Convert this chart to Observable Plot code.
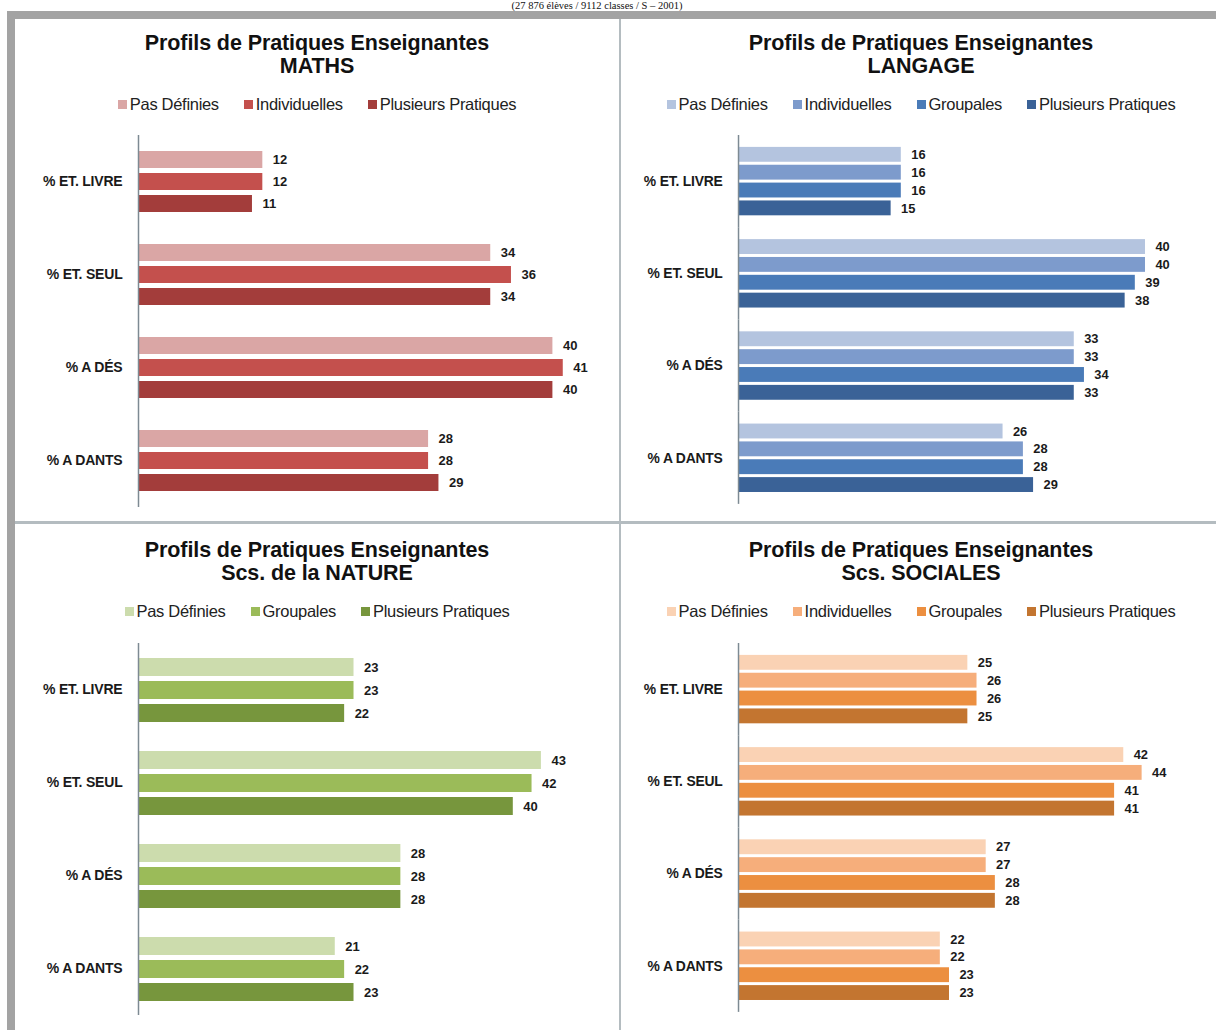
<!DOCTYPE html>
<html><head><meta charset="utf-8">
<script src="https://cdn.jsdelivr.net/npm/d3@7"></script>
<script src="https://cdn.jsdelivr.net/npm/@observablehq/plot@0.6"></script>
<style>
body{margin:0;background:#fff;}
#wrap{position:relative;width:1216px;height:1030px;overflow:hidden;background:#fff;font-family:"Liberation Sans",Arial,sans-serif;}
#cap{position:absolute;left:0;width:1194px;top:0px;height:11px;text-align:center;font-family:"Liberation Serif","DejaVu Serif",serif;font-size:10.5px;line-height:11px;color:#111;z-index:5;}
#frame{position:absolute;left:7px;top:11px;width:1300px;height:1100px;background:#b4bcc0;border-left:8px solid #a3a3a3;border-top:8px solid #a3a3a3;}
.panel{position:absolute;background:#fff;}
.title{position:absolute;text-align:center;font-weight:bold;font-size:21.5px;line-height:23px;color:#111;letter-spacing:-0.1px;}
.legend{position:absolute;display:flex;justify-content:center;gap:25px;font-size:16.5px;line-height:20px;color:#222;letter-spacing:-0.3px;}
.legend span.sw{display:inline-block;width:9px;height:9px;margin-right:3px;vertical-align:1px;}
.chart{position:absolute;}
.chart svg{font-family:"Liberation Sans",Arial,sans-serif;}
.chart g[aria-label="fy-axis tick label"] text{font-weight:bold;font-size:14px;fill:#1a1a1a;letter-spacing:-0.2px;}
</style></head>
<body><div id="wrap">
<div id="frame"></div>
<div id="cap">(27 876 élèves / 9112 classes / S – 2001)</div>
</div>
<script>
const categories = ["% ET. LIVRE", "% ET. SEUL", "% A DÉS", "% A DANTS"];

const mathsTitle = ["Profils de Pratiques Enseignantes", "MATHS"];
const mathsSeries = ["Pas Définies", "Individuelles", "Plusieurs Pratiques"];
const mathsColors = ["#daa6a5", "#c4504d", "#a33d3b"];
const mathsValues = [[12, 12, 11], [34, 36, 34], [40, 41, 40], [28, 28, 29]];

const langageTitle = ["Profils de Pratiques Enseignantes", "LANGAGE"];
const langageSeries = ["Pas Définies", "Individuelles", "Groupales", "Plusieurs Pratiques"];
const langageColors = ["#b4c4df", "#7d9bcc", "#4a7bb8", "#3a6297"];
const langageValues = [[16, 16, 16, 15], [40, 40, 39, 38], [33, 33, 34, 33], [26, 28, 28, 29]];

const natureTitle = ["Profils de Pratiques Enseignantes", "Scs. de la NATURE"];
const natureSeries = ["Pas Définies", "Groupales", "Plusieurs Pratiques"];
const natureColors = ["#ccdcad", "#9bbb59", "#77963d"];
const natureValues = [[23, 23, 22], [43, 42, 40], [28, 28, 28], [21, 22, 23]];

const socialesTitle = ["Profils de Pratiques Enseignantes", "Scs. SOCIALES"];
const socialesSeries = ["Pas Définies", "Individuelles", "Groupales", "Plusieurs Pratiques"];
const socialesColors = ["#fad2b4", "#f6ae7b", "#ec8f40", "#c37530"];
const socialesValues = [[25, 26, 26, 25], [42, 44, 41, 41], [27, 27, 28, 28], [22, 22, 23, 23]];

const wrap = document.getElementById("wrap");

const panels = [
  {title: mathsTitle, series: mathsSeries, colors: mathsColors, values: mathsValues,
   box: [15, 19, 604, 502], cx: 17, top: 21, axisX: 138, pxPerUnit: 10.36, xmax: 45, svgTop: 134, padIn: 0.22, padOut: 0.64, tickPad: 16},
  {title: langageTitle, series: langageSeries, colors: langageColors, values: langageValues,
   box: [621, 19, 700, 502], cx: 621, top: 21, axisX: 739, pxPerUnit: 10.26, xmax: 45, svgTop: 134, padIn: 0.18, padOut: 0.645, tickPad: 16},
  {title: natureTitle, series: natureSeries, colors: natureColors, values: natureValues,
   box: [15, 524, 604, 600], cx: 17, top: 528, axisX: 138, pxPerUnit: 9.37, xmax: 50, svgTop: 642, padIn: 0.22, padOut: 0.6, tickPad: 16},
  {title: socialesTitle, series: socialesSeries, colors: socialesColors, values: socialesValues,
   box: [621, 524, 700, 600], cx: 621, top: 528, axisX: 739, pxPerUnit: 9.25, xmax: 50, svgTop: 642, padIn: 0.18, padOut: 0.645, tickPad: 16}
];

for (const p of panels) {
  const [bx, by, bw, bh] = p.box;
  const pd = document.createElement("div");
  pd.className = "panel";
  Object.assign(pd.style, {left: bx + "px", top: by + "px", width: bw + "px", height: bh + "px"});
  wrap.appendChild(pd);

  const width = 600;
  const t = document.createElement("div");
  t.className = "title";
  Object.assign(t.style, {left: p.cx + "px", width: width + "px", top: (p.top + 11) + "px"});
  t.innerHTML = p.title.join("<br>");
  wrap.appendChild(t);

  const lg = document.createElement("div");
  lg.className = "legend";
  Object.assign(lg.style, {left: p.cx + "px", width: width + "px", top: (p.top + 73) + "px"});
  p.series.forEach((s, i) => {
    const it = document.createElement("div");
    it.innerHTML = `<span class="sw" style="background:${p.colors[i]}"></span>${s}`;
    lg.appendChild(it);
  });
  wrap.appendChild(lg);

  const data = [];
  categories.forEach((c, ci) => p.series.forEach((s, si) => data.push({category: c, series: s, value: p.values[ci][si]})));

  const marginLeft = p.axisX - p.cx;
  const marginRight = width - marginLeft - p.pxPerUnit * p.xmax;
  const chart = Plot.plot({
    width, height: 374,
    marginLeft, marginRight, marginTop: 0, marginBottom: 0,
    style: {fontSize: "12px", fontFamily: "Liberation Sans, Arial, sans-serif", background: "transparent"},
    x: {domain: [0, p.xmax], axis: null},
    y: {domain: p.series, axis: null, paddingInner: p.padIn, paddingOuter: p.padOut},
    fy: {domain: categories, axis: "left", label: null, tickSize: 0, tickPadding: p.tickPad, padding: 0},
    color: {domain: p.series, range: p.colors},
    marks: [
      Plot.barX(data, {x: "value", y: "series", fy: "category", fill: "series"}),
      Plot.text(data, {x: "value", y: "series", fy: "category", text: d => String(d.value), dx: 10, textAnchor: "start", fontWeight: "bold", fontSize: 13, fill: "#1a1a1a"}),
      Plot.ruleX([0], {stroke: "#7d8a93", strokeWidth: 1.5})
    ]
  });
  const cd = document.createElement("div");
  cd.className = "chart";
  Object.assign(cd.style, {left: p.cx + "px", top: p.svgTop + "px"});
  cd.appendChild(chart);
  wrap.appendChild(cd);
}
</script>
</body></html>
